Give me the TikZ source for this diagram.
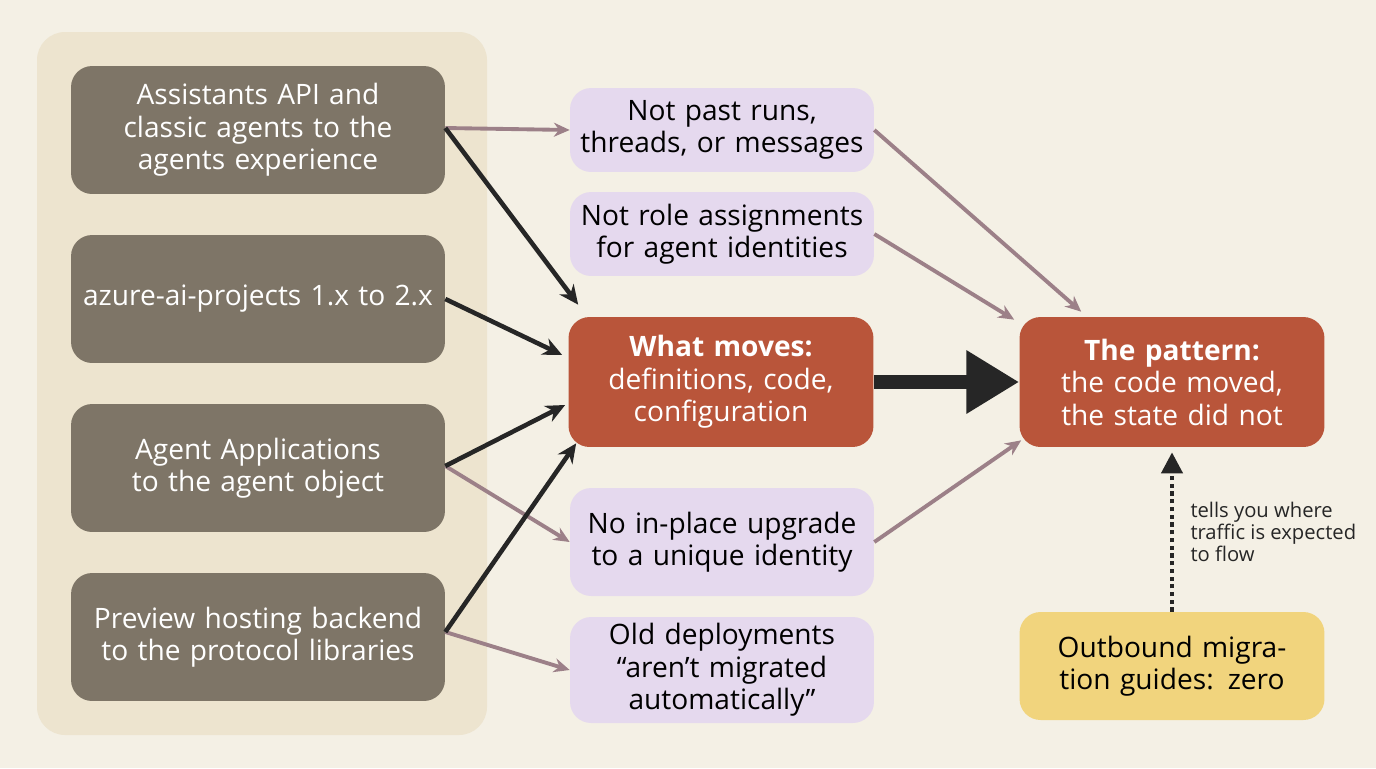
\documentclass[tikz,border=0pt]{standalone}
\usepackage{fontspec}
\setmainfont{Open Sans}
\usetikzlibrary{arrows.meta, positioning, calc}
\definecolor{colour_bg}{HTML}{F4F0E5}
\definecolor{colour_panel}{HTML}{EDE4CF}
\definecolor{colour_src}{HTML}{7E7567}
\definecolor{colour_not}{HTML}{E5D9EE}
\definecolor{colour_core}{HTML}{B9553A}
\definecolor{colour_zero}{HTML}{F1D47D}
\definecolor{colour_link}{HTML}{9C8088}

\begin{document}
\begin{tikzpicture}
   [
      x=0.02cm, y=-0.02cm,
      box/.style={rounded corners=12pt, align=center, font=\fontsize{16}{18.5}\selectfont, inner sep=0pt},
      source/.style={box, fill=colour_src, text=white, minimum width=7.48cm, minimum height=2.56cm, text width=7cm},
      caveat/.style={box, fill=colour_not, text=black, minimum width=6.08cm, text width=5.8cm},
      core/.style={box, fill=colour_core, text=white, minimum width=6.1cm, minimum height=2.6cm, text width=5.8cm},
      soft link/.style={-{Stealth[length=9pt, width=8pt]}, line width=2.2pt, colour_link},
      hard link/.style={-{Stealth[length=11pt, width=10pt]}, line width=2.6pt, black!85}
   ]

   % background and left panel
   \fill[colour_bg] (0,0) rectangle (1376,768);
   \fill[colour_panel, rounded corners=16pt] (37,32) rectangle (487,735);

   % =======================================================
   % Sources (left column)
   % =======================================================
   \node[source] (assist) at (258,130) {Assistants API and classic agents to the agents experience};
   \node[source] (sdk) at (258,299) {azure-ai-projects 1.x to 2.x};
   \node[source] (apps) at (258,468) {Agent Applications to the agent object};
   \node[source] (hosting) at (258,637) {Preview hosting backend to the protocol libraries};

   % =======================================================
   % Middle column
   % =======================================================
   \node[caveat, minimum height=1.68cm] (runs) at (722,130) {Not past runs, threads, or messages};
   \node[caveat, minimum height=1.68cm] (roles) at (722,234) {Not role assignments for agent identities};
   \node[core] (moves) at (721,382) {\textbf{What moves:}\\definitions, code, configuration};
   \node[caveat, minimum height=2.16cm] (upgrade) at (722,542) {No in-place upgrade to a unique identity};
   \node[caveat, minimum height=2.12cm] (deploy) at (722,670) {Old deployments \\ “aren’t migrated automatically”};

   % =======================================================
   % Right column
   % =======================================================
   \node[core] (pattern) at (1172,382) {\textbf{The pattern:}\\the code moved, the state did not};
   \node[box, fill=colour_zero, minimum width=6.1cm, minimum height=2.16cm, text width=5.8cm] (zero) at (1172,666) {Outbound migration guides: zero};

   % =======================================================
   % Arrows
   % =======================================================
   \draw[soft link] (assist.east |- 0,128) -- (runs.west);
   \draw[soft link] (apps.east |- 0,466) -- (upgrade.west);
   \draw[soft link] (hosting.east |- 0,632) -- (deploy.west);

   \draw[hard link] (assist.east |- 0,128) -- ($(moves.north west)+(10,-12)$);
   \draw[hard link] (sdk.east) -- ($(moves.west)+(-6,-27)$);
   \draw[hard link] (apps.east |- 0,466) -- ($(moves.west)+(-3,23)$);
   \draw[hard link] (hosting.east |- 0,632) -- ($(moves.south west)+(8,-4)$);

   \draw[soft link] (runs.east) -- ($(pattern.north west)+(62,-5)$);
   \draw[soft link] (roles.east) -- ($(pattern.north west)+(-5,3)$);
   \draw[soft link] (upgrade.east) -- ($(pattern.south west)+(2,-7)$);

   \draw[-{Triangle[length=30pt, width=34pt]}, line width=8pt, black!85] (moves.east) -- (pattern.west);

   \draw[-{Triangle[length=12pt, width=12pt]}, line width=2.4pt, dotted, black!85] (zero.north) -- ($(pattern.south)+(0,5)$)
      node[midway, right=6pt, align=left, font=\fontsize{11.5}{12.5}\selectfont] (note) {tells you where\\traffic is expected\\to flow};
\end{tikzpicture}
\end{document}
